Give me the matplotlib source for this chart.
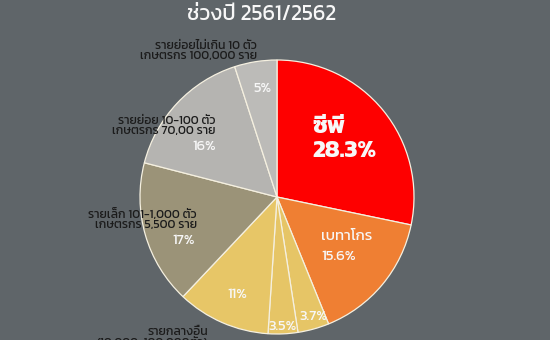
import matplotlib
matplotlib.use("Agg")
import matplotlib.pyplot as plt
from matplotlib import font_manager
from matplotlib.ft2font import FT2Font

# Thai-capable face, in order of preference
thai_names = set()
for f in font_manager.fontManager.ttflist:
    try:
        if 0x0E0A in FT2Font(f.fname).get_charmap():
            thai_names.add(f.name)
    except Exception:
        pass
preferred = ["Kanit", "Prompt", "Mitr", "Bai Jamjuree", "Athiti", "Loma"]
thai_font = next((n for n in preferred if n in thai_names),
                 sorted(thai_names)[0] if thai_names else "DejaVu Sans")
plt.rcParams["font.family"] = [thai_font, "DejaVu Sans"]

# Market share of pig producers, clockwise from 12 o'clock
shares = [28.3, 15.6, 3.7, 3.5, 11, 17, 16, 5]
pct_labels = ["28.3%", "15.6%", "3.7%", "3.5%", "11%", "17%", "16%", "5%"]
colors = ["#fe0000", "#ef7f33", "#e6c566", "#e6c566", "#e7c667",
          "#9b9378", "#b5b4b1", "#bcbbb8"]

title_line = "ช่วงปี 2561/2562"
side_labels = [
    "รายย่อยไม่เกิน 10 ตัว\nเกษตรกร 100,000 ราย",
    "รายย่อย 10-100 ตัว\nเกษตรกร 70,00 ราย",
    "รายเล็ก 101-1,000 ตัว\nเกษตรกร 5,500 ราย",
    "รายกลางอื่น\n(10,000-100,000ตัว)",
]

bg = "#5f6569"
fig = plt.figure(figsize=(5.5, 3.4), dpi=100, facecolor=bg)
ax = fig.add_axes([0, 0, 1, 1])
ax.set_facecolor(bg)

cx, cy, r = 277, 143, 137
ax.pie(shares, colors=colors, startangle=90, counterclock=False,
       center=(cx, cy), radius=r, frame=True,
       wedgeprops=dict(edgecolor="#f5f0e0", linewidth=0.9))
ax.set_xlim(0, 550)
ax.set_ylim(0, 340)
ax.set_aspect("equal")
ax.axis("off")

white = "#f7f7f7"
dark = "#1b1b1b"
# big label on the leading slice
ax.text(312, 340 - 127, "ซีพี", color=white, fontsize=17.5, fontweight="bold",
        ha="left", va="center")
ax.text(312, 340 - 151, pct_labels[0], color=white, fontsize=17.5,
        fontweight="bold", ha="left", va="center")
ax.text(321, 340 - 236, "เบทาโกร", color=white, fontsize=10.8, ha="left", va="center")
ax.text(321, 340 - 256, pct_labels[1], color=white, fontsize=10.8, ha="left", va="center")

pct_pos = [(313, 317), (283, 327), (237, 294), (184, 240), (204, 146), (262, 88)]
for (x, y), lab in zip(pct_pos, pct_labels[2:]):
    ax.text(x, 340 - y, lab, color=white, fontsize=10.5, ha="center", va="center")

side_pos = [(257, 51), (215, 126), (197, 219), (208, 337)]
for (x, y), lab in zip(side_pos, side_labels):
    ax.text(x, 340 - y, lab, color=dark, fontsize=8.8, ha="right", va="center",
            linespacing=1.0)

ax.text(262, 340 - 15, title_line, color=white, fontsize=15.5, ha="center",
        va="center")

fig.savefig("out.png", facecolor=bg)
